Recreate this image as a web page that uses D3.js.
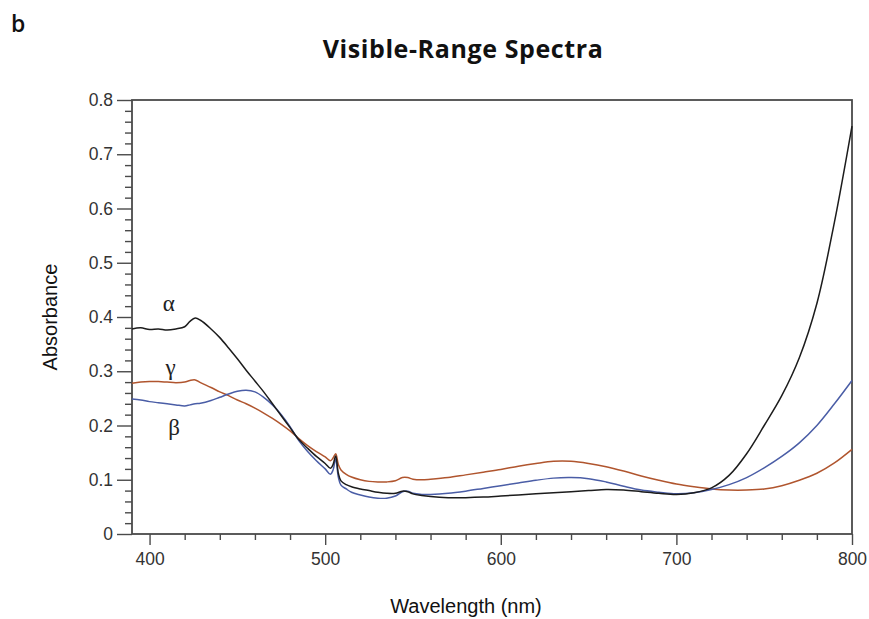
<!DOCTYPE html>
<html>
<head>
<meta charset="utf-8">
<script src="https://cdn.jsdelivr.net/npm/d3@7/dist/d3.min.js"></script>
<style>
  html, body { margin: 0; padding: 0; background: #fff; }
  svg { display: block; }
</style>
</head>
<body>
<svg id="chart" width="869" height="619"></svg>
<script>
// ---------- Data ----------
const wavelengths = [390,395,400,405,410,415,420,423,426,429,435,440,445,450,455,460,465,470,475,480,485,490,495,500,503,504.5,506,507.5,509,512,515,520,525,530,535,540,544,547,550,555,560,570,580,590,600,610,620,630,640,650,660,670,680,690,700,710,720,730,740,750,760,770,780,790,800];

const alphaValues = [0.378,0.380,0.377,0.378,0.376,0.378,0.382,0.392,0.398,0.394,0.378,0.362,0.343,0.323,0.302,0.282,0.262,0.240,0.218,0.196,0.174,0.158,0.143,0.130,0.121,0.128,0.144,0.112,0.098,0.091,0.087,0.083,0.080,0.077,0.075,0.075,0.079,0.078,0.074,0.071,0.069,0.067,0.067,0.068,0.070,0.072,0.074,0.076,0.078,0.080,0.082,0.081,0.078,0.075,0.073,0.076,0.085,0.108,0.148,0.200,0.255,0.325,0.425,0.575,0.752];

const betaValues = [0.249,0.247,0.244,0.242,0.240,0.238,0.236,0.238,0.240,0.241,0.246,0.252,0.258,0.263,0.265,0.262,0.252,0.238,0.220,0.198,0.172,0.152,0.135,0.120,0.110,0.118,0.138,0.105,0.090,0.083,0.077,0.072,0.068,0.066,0.066,0.070,0.078,0.079,0.075,0.073,0.073,0.075,0.079,0.084,0.089,0.094,0.099,0.103,0.104,0.102,0.096,0.088,0.081,0.077,0.074,0.076,0.082,0.091,0.104,0.122,0.143,0.168,0.200,0.240,0.283];

const gammaValues = [0.278,0.280,0.281,0.281,0.280,0.279,0.280,0.283,0.284,0.279,0.270,0.262,0.255,0.247,0.240,0.232,0.223,0.213,0.202,0.190,0.176,0.163,0.152,0.142,0.135,0.140,0.148,0.128,0.118,0.110,0.105,0.100,0.097,0.096,0.096,0.098,0.104,0.104,0.101,0.100,0.101,0.104,0.109,0.114,0.119,0.125,0.130,0.134,0.134,0.130,0.124,0.116,0.107,0.099,0.092,0.087,0.083,0.081,0.081,0.083,0.089,0.099,0.112,0.131,0.156];

const seriesNames = ["α", "γ", "β"];
const xTickValues = [400, 500, 600, 700, 800];
const yTickValues = [0, 0.1, 0.2, 0.3, 0.4, 0.5, 0.6, 0.7, 0.8];

// label anchor positions in data units (wavelength, absorbance)
const labelWl = [411, 412, 414];
const labelAbs = [0.411, 0.293, 0.182];

// ---------- Layout ----------
const plot = { left: 132, right: 852, top: 100, bottom: 534 };
const colors = { alpha: "#1c1c1c", beta: "#4a5da6", gamma: "#b0552e" };

const svg = d3.select("#chart");

const x = d3.scaleLinear().domain([390, 800]).range([plot.left, plot.right]);
const y = d3.scaleLinear().domain([0, 0.8]).range([plot.bottom, plot.top]);

// Panel label & title
svg.append("text").attr("x", 11).attr("y", 32)
  .attr("font-family", "Open Sans, sans-serif").attr("font-size", 23).attr("font-weight", 600)
  .attr("fill", "#111").text("b");

svg.append("text").attr("x", 463).attr("y", 58).attr("text-anchor", "middle")
  .attr("font-family", "Open Sans, sans-serif").attr("font-size", 25).attr("font-weight", 700)
  .attr("letter-spacing", 0.6)
  .attr("fill", "#111").text("Visible-Range Spectra");

// Axes (ticks outward)
const xMinor = d3.range(400, 801, 20).filter(v => !xTickValues.includes(v));
const yMinor = d3.range(0, 0.801, 0.02).map(v => +v.toFixed(2)).filter(v => !yTickValues.some(t => Math.abs(t - v) < 1e-6));

const axisColor = "#4a4a4a";
const fontFamily = "Liberation Sans, Arial, sans-serif";

const gxMinor = svg.append("g").attr("transform", `translate(0,${plot.bottom})`)
  .call(d3.axisBottom(x).tickValues(xMinor).tickSize(6).tickFormat(""));
const gx = svg.append("g").attr("transform", `translate(0,${plot.bottom})`)
  .call(d3.axisBottom(x).tickValues(xTickValues).tickSize(11).tickPadding(8).tickFormat(d3.format("d")));

const gyMinor = svg.append("g").attr("transform", `translate(${plot.left},0)`)
  .call(d3.axisLeft(y).tickValues(yMinor).tickSize(7).tickFormat(""));
const gy = svg.append("g").attr("transform", `translate(${plot.left},0)`)
  .call(d3.axisLeft(y).tickValues(yTickValues).tickSize(15).tickPadding(4)
    .tickFormat(d => d === 0 ? "0" : d3.format(".1f")(d)));

[gxMinor, gx, gyMinor, gy].forEach(g => {
  g.select(".domain").remove();
  g.selectAll(".tick line").attr("stroke", axisColor).attr("stroke-width", 1.4);
  g.selectAll(".tick text").attr("fill", "#333").attr("font-family", fontFamily).attr("font-size", 17.5);
});

// Frame
svg.append("rect")
  .attr("x", plot.left).attr("y", plot.top)
  .attr("width", plot.right - plot.left).attr("height", plot.bottom - plot.top)
  .attr("fill", "none").attr("stroke", axisColor).attr("stroke-width", 1.8);

// Lines
const line = d3.line().x(d => x(d[0])).y(d => y(d[1])).curve(d3.curveCatmullRom.alpha(0.5));
const series = [
  { name: "gamma", values: gammaValues },
  { name: "beta", values: betaValues },
  { name: "alpha", values: alphaValues }
];
svg.append("g").selectAll("path").data(series).join("path")
  .attr("d", s => line(wavelengths.map((w, i) => [w, s.values[i]])))
  .attr("fill", "none")
  .attr("stroke", s => colors[s.name])
  .attr("stroke-width", 1.5)
  .attr("stroke-linejoin", "round");

// Greek series labels
svg.append("g").selectAll("text").data(seriesNames).join("text")
  .attr("x", (d, i) => x(labelWl[i]))
  .attr("y", (d, i) => y(labelAbs[i]))
  .attr("text-anchor", "middle")
  .attr("font-family", "Liberation Serif, DejaVu Serif, serif")
  .attr("font-size", 23)
  .attr("fill", "#222")
  .text(d => d);

// Axis titles
svg.append("text")
  .attr("transform", `translate(57,${(plot.top + plot.bottom) / 2}) rotate(-90)`)
  .attr("text-anchor", "middle")
  .attr("font-family", fontFamily).attr("font-size", 20).attr("fill", "#111")
  .text("Absorbance");

svg.append("text")
  .attr("x", 466).attr("y", 613)
  .attr("text-anchor", "middle")
  .attr("font-family", fontFamily).attr("font-size", 20).attr("fill", "#111")
  .text("Wavelength (nm)");
</script>
</body>
</html>
